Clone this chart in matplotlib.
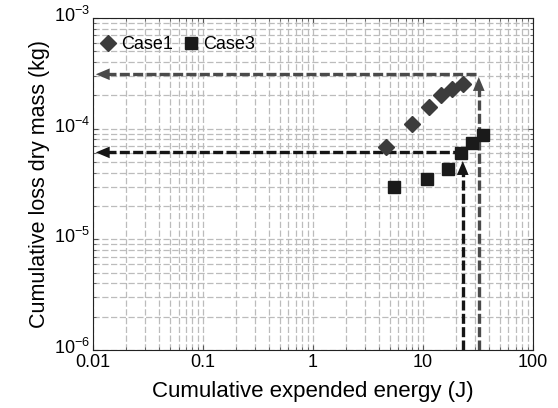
import numpy as np
import matplotlib
matplotlib.use("Agg")
import matplotlib.pyplot as plt
import matplotlib.transforms as mtransforms
from matplotlib.ticker import LogLocator, NullFormatter, FixedLocator

plt.rcParams['font.family'] = ['Liberation Sans', 'DejaVu Sans']

# Data
case1_energy = [4.6, 7.9, 11.3, 14.6, 18.4, 23.1]
case1_mass = [6.8e-5, 1.1e-4, 1.57e-4, 2.0e-4, 2.28e-4, 2.53e-4]
case3_energy = [5.45, 10.9, 16.9, 22.1, 27.9, 35.1]
case3_mass = [2.97e-5, 3.5e-5, 4.3e-5, 6.0e-5, 7.4e-5, 8.8e-5]

# Guide arrows: (energy, mass) where the reading lines meet
case1_guide = (32.3, 3.1e-4)
case3_guide = (23.1, 6.1e-5)

x_lim = (0.01, 100)
y_lim = (1e-6, 1e-3)

fig = plt.figure(figsize=(5.58, 4.08), dpi=100)
ax = fig.add_axes([0.1667, 0.142, 0.788, 0.814])
ax.set_xscale('log')
ax.set_yscale('log')
ax.set_xlim(*x_lim)
ax.set_ylim(*y_lim)

ax.grid(True, which='both', linestyle=(0, (5, 2)), color='#bcbcbc', linewidth=0.9)
ax.set_axisbelow(True)

head = '-|>,head_length=1.0,head_width=0.42'

def guide(ax, gx, gy, color, to_left, up_to):
    dash = (0, (3, 1))
    # horizontal line toward y axis
    ax.plot([x_lim[0] * 1.3, to_left], [gy, gy], color=color, lw=2.4, linestyle=dash)
    ax.annotate('', xy=(x_lim[0], gy), xytext=(x_lim[0] * 1.6, gy),
                arrowprops=dict(arrowstyle=head, color=color, lw=0))
    # vertical line up from x axis
    ax.plot([gx, gx], [y_lim[0], up_to / 1.25], color=color, lw=2.4, linestyle=dash)
    ax.annotate('', xy=(gx, up_to), xytext=(gx, up_to / 1.6),
                arrowprops=dict(arrowstyle=head, color=color, lw=0))

guide(ax, case1_guide[0], case1_guide[1], '#4a4a4a', case1_guide[0], case1_guide[1])
guide(ax, case3_guide[0], case3_guide[1], '#151515', 20.0, 5.4e-5)

ax.plot(case1_energy, case1_mass, linestyle='none', marker='D', markersize=8,
        color='#3c3c3c', label='Case1', zorder=5)
ax.plot(case3_energy, case3_mass, linestyle='none', marker='s', markersize=9,
        color='#1a1a1a', label='Case3', zorder=5)

ax.xaxis.set_major_locator(FixedLocator([0.01, 0.1, 1, 10, 100]))
ax.set_xticklabels(['0.01', '0.1', '1', '10', '100'])
ax.yaxis.set_major_locator(LogLocator(base=10))
ax.xaxis.set_minor_locator(LogLocator(base=10, subs=np.arange(2, 10)))
ax.yaxis.set_minor_locator(LogLocator(base=10, subs=np.arange(2, 10)))
ax.yaxis.set_minor_formatter(NullFormatter())
ax.xaxis.set_minor_formatter(NullFormatter())
ax.tick_params(which='both', direction='in', top=True, right=True, labelsize=13, color='#555555')
ax.tick_params(axis='y', pad=2)
ax.tick_params(axis='x', pad=3)
for s in ax.spines.values():
    s.set_color('#222222')

shift = mtransforms.ScaledTranslation(0, 3 / 72, fig.dpi_scale_trans)
for lab in ax.get_yticklabels():
    lab.set_transform(lab.get_transform() + shift)

ax.set_xlabel('Cumulative expended energy (J)', fontsize=16, labelpad=7)
ax.set_ylabel('Cumulative loss dry mass (kg)', fontsize=15.5, labelpad=3)

ax.legend(loc='center left', bbox_to_anchor=(0.0, 0.919), ncol=2, frameon=False,
          fontsize=13, handletextpad=0.2, columnspacing=0.5, borderaxespad=0.0,
          borderpad=0.35, handlelength=1.0)

fig.savefig('out.png', dpi=100)
